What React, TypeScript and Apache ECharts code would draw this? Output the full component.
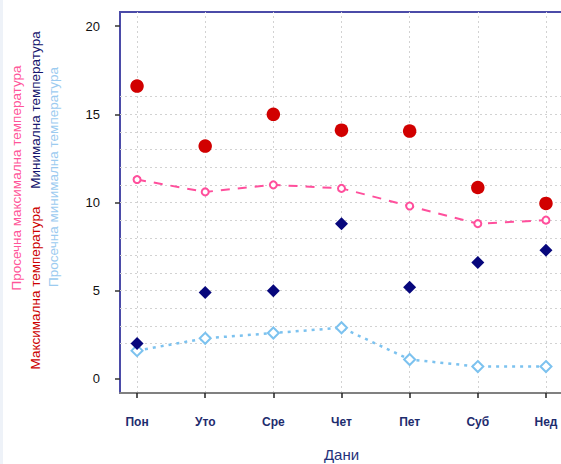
import React, { useEffect, useRef } from "react";
import * as echarts from "echarts";

const days = ["Пон", "Уто", "Сре", "Чет", "Пет", "Суб", "Нед"];
const maxTemp = [16.6, 13.2, 15.0, 14.1, 14.05, 10.85, 9.95];
const avgMaxTemp = [11.3, 10.6, 11.0, 10.8, 9.8, 8.8, 9.0];
const minTemp = [2.0, 4.9, 5.0, 8.8, 5.2, 6.6, 7.3];
const avgMinTemp = [1.6, 2.3, 2.6, 2.9, 1.1, 0.7, 0.7];
const yTicks = [0, 5, 10, 15, 20];
const xPositions = [1, 2, 3, 4, 5, 6, 7];
const yGridValues = [2, 3, 4, 5, 6, 7, 8, 9, 10, 11, 12, 13, 14, 15, 16];

const FONT = '"Liberation Sans", Arial, sans-serif';

export default function App() {
  const ref = useRef<HTMLDivElement>(null);
  useEffect(() => {
    if (!ref.current) return;
    const chart = echarts.init(ref.current, null, { renderer: "svg" });
    const pts = (arr: number[]) => arr.map((v, i) => [xPositions[i], v]);
    chart.setOption({
      animation: false,
      backgroundColor: "#ffffff",
      grid: {
        left: 120,
        top: 12,
        width: 443,
        height: 381,
        containLabel: false,
        outerBoundsMode: "none",
        show: true,
        borderColor: "#4b4ba8",
        borderWidth: 2,
        backgroundColor: "transparent",
      },
      xAxis: {
        type: "value",
        min: 0.75,
        max: 7.25,
        z: 6,
        splitLine: { show: false },
        axisLine: { show: true, onZero: false, lineStyle: { color: "#808080", width: 2 } },
        axisTick: {
          show: true,
          customValues: xPositions,
          length: 5,
          lineStyle: { color: "#222222", width: 1.5 },
        },
        axisLabel: {
          customValues: xPositions,
          formatter: (v: number) => days[Math.round(v) - 1] ?? "",
          margin: 23,
          color: "#1e2c6e",
          fontSize: 12,
          fontWeight: "bold",
          fontFamily: FONT,
        },
        name: "Дани",
        nameLocation: "middle",
        nameGap: 54,
        nameTextStyle: { color: "#24307a", fontSize: 15, fontFamily: FONT },
      },
      yAxis: {
        type: "value",
        min: -0.8,
        max: 20.8,
        splitLine: { show: false },
        axisLine: { show: false, onZero: false },
        axisTick: {
          show: true,
          customValues: yTicks,
          length: 5,
          lineStyle: { color: "#333333", width: 1.5 },
        },
        axisLabel: {
          customValues: yTicks,
          margin: 20,
          color: "#111111",
          fontSize: 13,
          fontFamily: FONT,
        },
      },
      graphic: [
        { type: "rect", left: 0, top: 0, shape: { width: 3, height: 464 }, style: { fill: "#eef2f8" } },
        {
          type: "text", x: 16, y: 178, rotation: Math.PI / 2,
          style: { text: "Просечна максимална температура", fill: "#ff5599", font: `13.5px ${FONT}`, align: "center", verticalAlign: "middle" },
        },
        {
          type: "text", x: 35, y: 288, rotation: Math.PI / 2,
          style: { text: "Максимална температура", fill: "#cc0000", font: `13.5px ${FONT}`, align: "center", verticalAlign: "middle" },
        },
        {
          type: "text", x: 35, y: 110, rotation: Math.PI / 2,
          style: { text: "Минимална температура", fill: "#16166e", font: `13.5px ${FONT}`, align: "center", verticalAlign: "middle" },
        },
        {
          type: "text", x: 53, y: 177, rotation: Math.PI / 2,
          style: { text: "Просечна минимална температура", fill: "#9ccbf0", font: `13.5px ${FONT}`, align: "center", verticalAlign: "middle" },
        },
      ],
      series: [
        {
          type: "scatter",
          data: [],
          silent: true,
          z: 1,
          markLine: {
            silent: true,
            z: 1,
            symbol: ["none", "none"],
            label: { show: false },
            lineStyle: { color: "#d2d2d2", type: [2, 3], width: 1 },
            data: [
              ...xPositions.map((v) => ({ xAxis: v })),
              ...yGridValues.map((v) => ({ yAxis: v })),
            ],
          },
        },
        {
          name: "Максимална температура",
          type: "scatter",
          symbol: "circle",
          symbolSize: 13.5,
          itemStyle: { color: "#d10000", opacity: 1, borderWidth: 0 },
          data: pts(maxTemp),
          z: 3,
        },
        {
          name: "Просечна максимална температура",
          type: "line",
          symbol: "emptyCircle",
          symbolSize: 7,
          itemStyle: { color: "#ff4f9c", borderWidth: 2 },
          lineStyle: { color: "#ff4f9c", width: 2, type: [9, 8] },
          data: pts(avgMaxTemp),
          z: 3,
        },
        {
          name: "Минимална температура",
          type: "scatter",
          symbol: "diamond",
          symbolSize: 13,
          itemStyle: { color: "#07077c", opacity: 1, borderWidth: 0 },
          data: pts(minTemp),
          z: 4,
        },
        {
          name: "Просечна минимална температура",
          type: "line",
          symbol: "emptyDiamond",
          symbolSize: 11,
          itemStyle: { color: "#7cc2ef", borderWidth: 2 },
          lineStyle: { color: "#7cc2ef", width: 2.5, type: [3, 5] },
          data: pts(avgMinTemp),
          z: 3,
        },
      ],
    });
    return () => chart.dispose();
  }, []);
  return (
    <div
      ref={ref}
      style={{ position: "fixed", left: 0, top: 0, width: 561, height: 464 }}
    />
  );
}
